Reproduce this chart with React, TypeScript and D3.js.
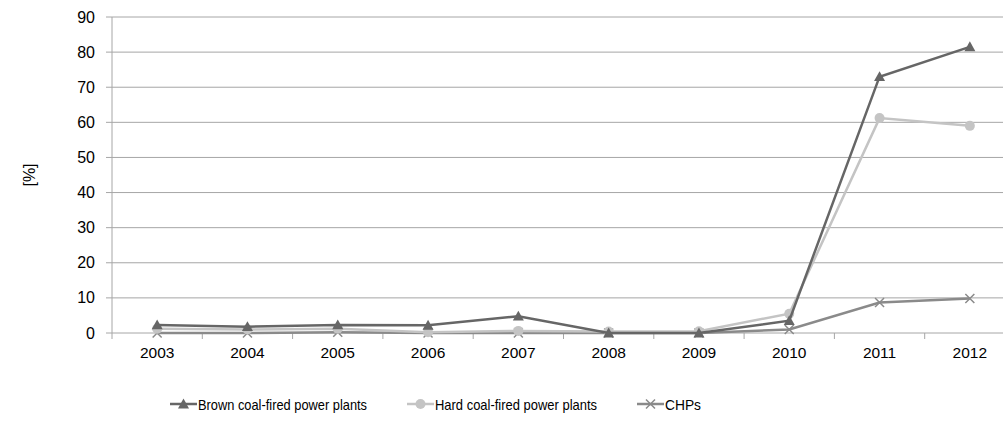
import React from "react";
import * as d3 from "d3";

const years = ["2003","2004","2005","2006","2007","2008","2009","2010","2011","2012"];
const brown = [2.3, 1.8, 2.3, 2.2, 4.8, 0, 0, 3.5, 73, 81.5];
const hard = [1.2, 1.0, 1.2, 0.2, 0.6, 0.4, 0.5, 5.5, 61.2, 59];
const chps = [0, 0, 0.2, 0, 0, 0, 0, 1, 8.7, 9.8];
const yTicks = [0,10,20,30,40,50,60,70,80,90];

const W = 1003, H = 429;
const left = 112, right = 1015, top = 17, bottom = 333;
const font = "'Liberation Sans', Arial, sans-serif";

function Marker({ type, x, y, color }: { type: string; x: number; y: number; color: string }) {
  if (type === "tri") {
    const s = 5.5;
    return <path d={`M${x},${y - s} L${x + s},${y + s * 0.8} L${x - s},${y + s * 0.8}Z`} fill={color} />;
  }
  if (type === "circle") return <circle cx={x} cy={y} r={5} fill={color} />;
  const s = 4.5;
  return <path d={`M${x - s},${y - s}L${x + s},${y + s}M${x - s},${y + s}L${x + s},${y - s}`} stroke={color} strokeWidth={1.5} />;
}

export default function App() {
  const x = d3.scaleBand().domain(years).range([left, right]);
  const y = d3.scaleLinear().domain([0, 90]).range([bottom, top]);
  const cx = (yr: string) => (x(yr) as number) + x.bandwidth() / 2;
  const line = d3.line<number>().x((_, i) => cx(years[i])).y((v) => y(v));
  const series = [
    { name: "CHPs", data: chps, color: "#8a8a8a", m: "x" },
    { name: "Hard coal-fired power plants", data: hard, color: "#c4c4c4", m: "circle" },
    { name: "Brown coal-fired power plants", data: brown, color: "#666666", m: "tri" },
  ];
  const legend = [
    { s: series[2], x0: 170, w: 169 },
    { s: series[1], x0: 407, w: 162 },
    { s: series[0], x0: 637, w: 36 },
  ];
  const ly = 404;
  return (
    <svg width={W} height={H} style={{ position: "absolute", left: 0, top: 0, background: "#fff" }} fontFamily={font}>
      {yTicks.map((t) => (
        <g key={t}>
          <line x1={left - 6} x2={right} y1={y(t)} y2={y(t)} stroke="#a6a6a6" strokeWidth={1} />
          <text x={95} y={y(t) + 5.5} textAnchor="end" fontSize={16} fill="#000">{t}</text>
        </g>
      ))}
      <line x1={left} x2={left} y1={top} y2={bottom} stroke="#a6a6a6" />
      {years.map((yr, i) => (
        <line key={"t" + i} x1={x(yr) as number} x2={x(yr) as number} y1={bottom} y2={bottom + 6} stroke="#a6a6a6" />
      ))}
      {years.map((yr) => (
        <text key={yr} x={cx(yr)} y={358} textAnchor="middle" fontSize={15.5}>{yr}</text>
      ))}
      <text transform={`translate(35,175) rotate(-90)`} textAnchor="middle" fontSize={16}>[%]</text>
      {series.map((s) => (
        <g key={s.name}>
          <path d={line(s.data) || ""} fill="none" stroke={s.color} strokeWidth={2.5} />
          {s.data.map((v, i) => (
            <Marker key={i} type={s.m} x={cx(years[i])} y={y(v)} color={s.color} />
          ))}
        </g>
      ))}
      {legend.map(({ s, x0, w }) => (
        <g key={s.name}>
          <line x1={x0} x2={x0 + 27} y1={ly} y2={ly} stroke={s.color} strokeWidth={2.5} />
          <Marker type={s.m} x={x0 + 13.5} y={ly} color={s.color} />
          <text x={x0 + 28} y={ly + 5.5} fontSize={15} textLength={w} lengthAdjust="spacingAndGlyphs">{s.name}</text>
        </g>
      ))}
    </svg>
  );
}
